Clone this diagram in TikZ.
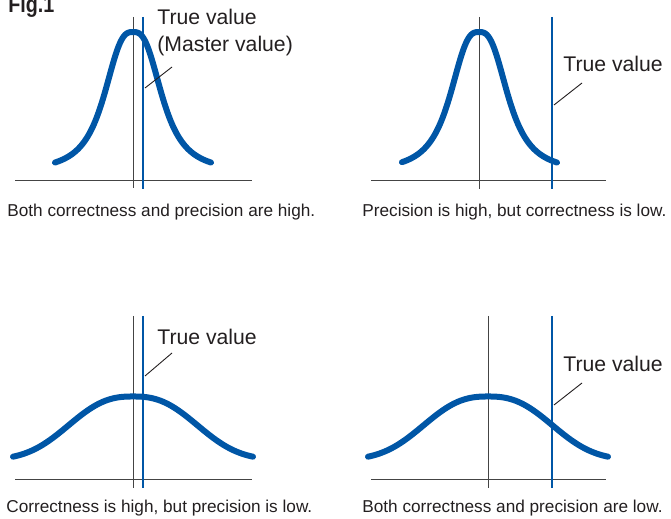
\documentclass[tikz,border=0pt]{standalone}
\usepackage{fontspec}
\setmainfont{Liberation Sans}
\newfontfamily\figfont[FakeStretch=0.85]{Liberation Sans}
\definecolor{cblue}{HTML}{0056A6}
\definecolor{ctext}{HTML}{231F20}
\definecolor{caxis}{HTML}{444444}
\tikzset{
  curve/.style={draw=cblue, line width=3pt, line cap=round},
  trueline/.style={draw=cblue, line width=1.35pt},
  meanline/.style={draw=caxis, line width=0.5pt},
  axisline/.style={draw=caxis, line width=0.5pt},
  leader/.style={draw=ctext, line width=0.45pt},
  lbl/.style={anchor=base west, inner sep=0pt, text=ctext, font=\fontsize{10.6}{13}\selectfont},
  captext/.style={anchor=base west, inner sep=0pt, text=ctext, font=\fontsize{8.6}{10}\selectfont},
}
\begin{document}
\begin{tikzpicture}[x=0.5pt, y=-0.5pt]
\useasboundingbox (0,0) rectangle (671,519);
% Fig title (cut off at the top in the reference)
\node[anchor=base west, inner sep=0pt, text=ctext, font=\figfont\fontsize{11.6}{13}\bfseries\selectfont] (fig) at (8,12.5) {Fig.1};

% ---------- Panel 1 ----------
\draw[axisline] (15,181) -- (252,181);
\draw[meanline] (133,17) -- (133,188);
\draw[curve] plot[domain=55:211, samples=157, smooth] (\x, {172-140/(1+((abs(\x-133)+0.01)/31)^2.84)});
\draw[trueline] (143,17) -- (143,189);
\node[lbl] (tv1) at (157,25) {True value};
\node[lbl] (mv1) at (157,52) {(Master value)};
\coordinate (l1a) at (172,67);
\coordinate (l1b) at (145,88);
\draw[leader] (l1a) -- (l1b);
\node[captext] (c1) at (7,217) {Both correctness and precision are high.};

% ---------- Panel 2 ----------
\draw[axisline] (371,181) -- (606,181);
\draw[meanline] (479,17) -- (479,189);
\draw[curve] plot[domain=402:557, samples=156, smooth] (\x, {172-140/(1+((abs(\x-479)+0.01)/31)^2.84)});
\draw[trueline] (552,17) -- (552,189);
\node[lbl] (tv2) at (563,72) {True value};
\coordinate (l2a) at (582,83);
\coordinate (l2b) at (554,105);
\draw[leader] (l2a) -- (l2b);
\node[captext] (c2) at (362,217) {Precision is high, but correctness is low.};

% ---------- Panel 3 ----------
\draw[axisline] (15,480) -- (252,480);
\draw[meanline] (133,316) -- (133,488);
\draw[curve] plot[domain=13:253, samples=121, smooth] (\x, {460-63.5*exp(-((abs(\x-133)+0.01)/78.5)^2.55)});
\draw[trueline] (143,316) -- (143,488);
\node[lbl] (tv3) at (157,345) {True value};
\coordinate (l3a) at (172,353);
\coordinate (l3b) at (145,376);
\draw[leader] (l3a) -- (l3b);
\node[captext] (c3) at (6,513) {Correctness is high, but precision is low.};

% ---------- Panel 4 ----------
\draw[axisline] (371,480) -- (606,480);
\draw[meanline] (488,316) -- (488,488);
\draw[curve] plot[domain=368:608, samples=121, smooth] (\x, {460-63.5*exp(-((abs(\x-488)+0.01)/78.5)^2.55)});
\draw[trueline] (552,316) -- (552,488);
\node[lbl] (tv4) at (563,372) {True value};
\coordinate (l4a) at (582,383);
\coordinate (l4b) at (554,405);
\draw[leader] (l4a) -- (l4b);
\node[captext] (c4) at (362,513) {Both correctness and precision are low.};
\end{tikzpicture}
\end{document}
